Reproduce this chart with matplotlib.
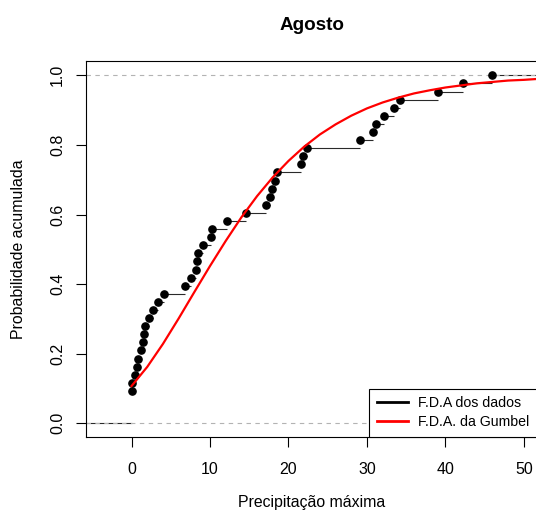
import matplotlib
matplotlib.use('Agg')
import matplotlib.pyplot as plt
import numpy as np
from matplotlib.lines import Line2D

plt.rcParams['font.family'] = ['Liberation Sans', 'DejaVu Sans']

title = "Agosto"
xlabel = "Precipitação máxima"
ylabel = "Probabilidade acumulada"
legend_labels = ["F.D.A dos dados", "F.D.A. da Gumbel"]

precip = [0, 0, 0, 0, 0.09, 0.38, 0.64, 0.83, 1.21, 1.43, 1.57, 1.78, 2.23, 2.74,
          3.31, 4.2, 6.77, 7.54, 8.2, 8.4, 8.5, 9.15, 10.1, 10.3, 12.13, 14.59,
          17.13, 17.7, 17.95, 18.3, 18.57, 21.55, 21.9, 22.3, 29.1, 30.8, 31.15,
          32.2, 33.4, 34.2, 39.1, 42.2, 45.9]

# fitted Gumbel CDF
gumbel_x = [0, 2, 4, 6, 8, 10, 12, 14, 16, 18, 20, 22, 24, 26, 28, 30, 32, 34,
            36, 38, 40, 42, 44, 46, 48, 50, 52]
gumbel_F = [0.107, 0.162, 0.228, 0.301, 0.377, 0.452, 0.524, 0.592, 0.653, 0.707,
            0.754, 0.795, 0.830, 0.859, 0.884, 0.905, 0.922, 0.936, 0.948, 0.957,
            0.965, 0.971, 0.977, 0.981, 0.985, 0.987, 0.990]

xticks = [0, 10, 20, 30, 40, 50]
yticks = [0.0, 0.2, 0.4, 0.6, 0.8, 1.0]
ytick_labels = ["0.0", "0.2", "0.4", "0.6", "0.8", "1.0"]

W, H = 536, 515
fig = plt.figure(figsize=(W / 100, H / 100), dpi=100)
left_px, right_px, top_px, bot_px = 86, 537.3, 61.4, 437.2
ax = fig.add_axes([left_px / W, 1 - bot_px / H, (right_px - left_px) / W,
                   (bot_px - top_px) / H])

xlim = (-5.8, 51.7)
ax.set_xlim(*xlim)
ax.set_ylim(-0.04, 1.04)

vals = np.array(precip)
n = len(vals)
uniq, counts = np.unique(vals, return_counts=True)
cdf = np.cumsum(counts) / n

# step segments
starts = np.concatenate([[xlim[0]], uniq])
ends = np.concatenate([uniq, [xlim[1] + 1]])
levels = np.concatenate([[0.0], cdf])
ax.hlines(levels, starts, ends, colors='#2a2a2a', linewidth=0.8, zorder=2)
ax.plot(uniq, cdf, 'o', color='black', markersize=5.2, zorder=3)

for yy in (0, 1):
    ax.axhline(yy, color='#b3b3b3', linewidth=0.8, linestyle=(0, (4, 4)), zorder=2.5)

ax.plot(gumbel_x, gumbel_F, color='#ff0000', linewidth=1.6, zorder=5)

ax.set_xticks(xticks)
ax.set_xticklabels([str(t) for t in xticks])
ax.set_yticks(yticks)
ax.set_yticklabels(ytick_labels, rotation=90, va='center')
ax.tick_params(axis='both', length=7, width=0.8, labelsize=11.5, color='black')
ax.tick_params(axis='x', pad=11)
ax.tick_params(axis='y', pad=8)
for s in ax.spines.values():
    s.set_linewidth(0.8)
    s.set_color('black')

handles = [Line2D([], [], color='black', linewidth=2.0),
           Line2D([], [], color='#ff0000', linewidth=2.0)]
leg = ax.legend(handles, legend_labels, loc='lower right', borderaxespad=0,
                fontsize=10.2, frameon=True, fancybox=False, framealpha=1,
                edgecolor='black', handlelength=2.2, handletextpad=0.7,
                borderpad=0.55, labelspacing=0.35)
leg.get_frame().set_linewidth(0.8)
leg.set_zorder(10)

fig.text(312 / W, 1 - 25 / H, title, ha='center', va='center', fontsize=13.6,
         fontweight='bold')
fig.text(312 / W, 1 - 502 / H, xlabel, ha='center', va='center', fontsize=11.4)
fig.text(19 / W, 1 - 249 / H, ylabel, ha='center', va='center', fontsize=11.4,
         rotation=90)

fig.savefig('out.png', dpi=100)
